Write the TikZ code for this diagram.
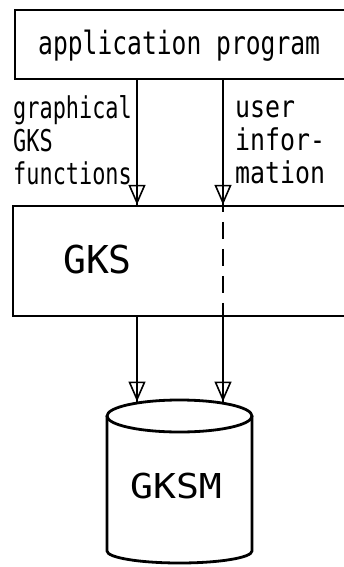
\documentclass[tikz,border=0pt]{standalone}
\usepackage{fontspec}
\usetikzlibrary{arrows.meta}
\newfontfamily\fA[FakeStretch=0.77]{DejaVu Sans Mono}
\newfontfamily\fB[FakeStretch=0.73]{DejaVu Sans Mono}
\newfontfamily\fE[FakeStretch=0.83]{DejaVu Sans Mono}
\newfontfamily\fC[FakeStretch=0.99]{DejaVu Sans Mono}
\newfontfamily\fD[FakeStretch=1.11]{DejaVu Sans Mono}
\begin{document}
\begin{tikzpicture}[x=1pt,y=-1pt,
  box/.style={draw, line width=2.4pt, inner sep=0pt},
  shaft/.style={line width=1.6pt},
  flow/.style={shaft, -{Triangle[open,length=20pt,width=17pt,line width=1.6pt]}},
  cyl/.style={line width=2.8pt},
  lbl/.style={align=left, anchor=base west, inner sep=0pt},
  ]
\useasboundingbox (0,0) rectangle (344,567);
\fill[white] (0,0) rectangle (344,567);
% boxes (right side runs past the picture's edge)
\node[box, minimum width=337pt, minimum height=69pt] (app) at (183.5,44.5) {};
\node[box, minimum width=339pt, minimum height=110pt] (gks) at (182.5,261) {};
% texts
\node[font=\fA\fontsize{32}{32}\selectfont, anchor=base west, inner sep=0pt] (apptext) at (38,55) {application program};
\node[lbl, font=\fB\fontsize{30}{33}\selectfont] (lleft) at (13,184) {graphical\\GKS\\functions};
\node[lbl, font=\fE\fontsize{30}{33}\selectfont] (lright) at (235,183) {user\\infor-\\mation};
\node[font=\fC\fontsize{38.4}{38.4}\selectfont, anchor=base west, inner sep=0pt] (gkstext) at (63,273) {GKS};
% cylinder
\draw[cyl] (107,416) -- (107,551) arc[start angle=180, end angle=0, x radius=72.5, y radius=12] -- (252,416);
\draw[cyl] (179.5,416) ellipse[x radius=72.5, y radius=16];
\node[font=\fD\fontsize{34.3}{34.3}\selectfont, anchor=base west, inner sep=0pt] (gksm) at (130,498) {GKSM};
% connector positions
\coordinate (xl) at (137,0);
\coordinate (xr) at (223,0);
\coordinate (t1) at (137,401.5);
\coordinate (t2) at (223,401.5);
% connectors
\draw[shaft] (app.south -| xl) -- (gks.north -| xl);
\draw[flow]  (app.south -| xl) -- (gks.north -| xl);
\draw[shaft] (app.south -| xr) -- (gks.north -| xr);
\draw[flow]  (app.south -| xr) -- (gks.north -| xr);
\draw[shaft, dash pattern=on 17pt off 10pt, dash phase=10pt] (gks.north -| xr) -- (gks.south -| xr);
\draw[shaft] (gks.south -| xl) -- (t1);
\draw[flow]  (gks.south -| xl) -- (t1);
\draw[shaft] (gks.south -| xr) -- (t2);
\draw[flow]  (gks.south -| xr) -- (t2);
\end{tikzpicture}
\end{document}
